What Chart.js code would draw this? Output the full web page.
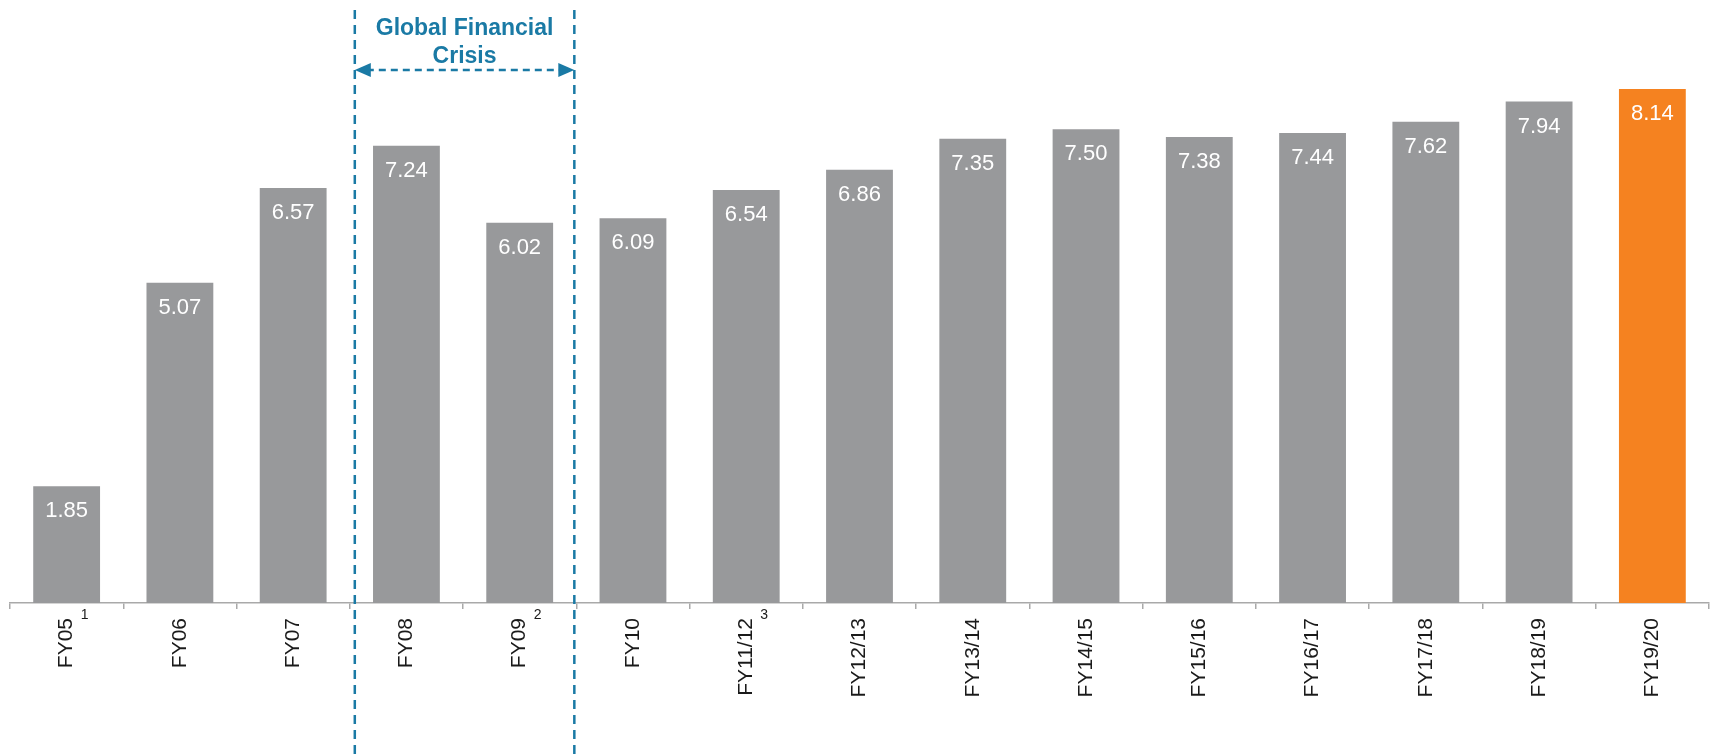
<!DOCTYPE html>
<html>
<head>
<meta charset="utf-8">
<script src="https://cdn.jsdelivr.net/npm/chart.js@4/dist/chart.umd.min.js"></script>
<style>
  html, body { margin: 0; padding: 0; background: #fff; }
  canvas { display: block; }
</style>
</head>
<body>
<canvas id="fy-chart" width="1712" height="755"></canvas>
<script>
var categories = ['FY05', 'FY06', 'FY07', 'FY08', 'FY09', 'FY10', 'FY11/12', 'FY12/13',
                  'FY13/14', 'FY14/15', 'FY15/16', 'FY16/17', 'FY17/18', 'FY18/19', 'FY19/20'];
var values = [1.85, 5.07, 6.57, 7.24, 6.02, 6.09, 6.54, 6.86, 7.35, 7.50, 7.38, 7.44, 7.62, 7.94, 8.14];
var footnotes = ['1', '', '', '', '2', '', '3', '', '', '', '', '', '', '', ''];
var crisisLabel = ['Global Financial', 'Crisis'];
var crisisFrom = 'FY08';
var crisisTo = 'FY09';

var GREY = '#98999b';
var ORANGE = '#f58220';
var BLUE = '#1a7aa5';
var FONT = '"Liberation Sans", Arial, sans-serif';

var barColors = values.map(function (v, i) {
    return i === values.length - 1 ? ORANGE : GREY;
});

// white value labels inside the top of each bar
var valueLabels = {
    id: 'valueLabels',
    afterDatasetsDraw: function (chart) {
        var ctx = chart.ctx;
        var meta = chart.getDatasetMeta(0);
        ctx.save();
        ctx.fillStyle = '#ffffff';
        ctx.font = '22px ' + FONT;
        ctx.textAlign = 'center';
        ctx.textBaseline = 'middle';
        meta.data.forEach(function (bar, i) {
            ctx.fillText(values[i].toFixed(2), bar.x, bar.y + 25);
        });
        ctx.restore();
    }
};

// small upright footnote marks next to the rotated tick labels
var footnoteMarks = {
    id: 'footnoteMarks',
    afterDraw: function (chart) {
        var ctx = chart.ctx;
        var xs = chart.scales.x;
        ctx.save();
        ctx.fillStyle = '#1a1a1a';
        ctx.font = '14px ' + FONT;
        ctx.textAlign = 'center';
        ctx.textBaseline = 'middle';
        footnotes.forEach(function (note, i) {
            if (!note) return;
            ctx.fillText(note, xs.getPixelForValue(i) + 18, xs.top + 12);
        });
        ctx.restore();
    }
};

// dashed band + arrow marking the global financial crisis
var crisisBand = {
    id: 'crisisBand',
    afterDraw: function (chart) {
        var ctx = chart.ctx;
        var xs = chart.scales.x;
        var a = categories.indexOf(crisisFrom);
        var b = categories.indexOf(crisisTo);
        var left = xs.getPixelForValue(a - 0.5) + 5;
        var right = xs.getPixelForValue(b + 0.5) - 2;
        var arrowY = 70;
        ctx.save();
        ctx.strokeStyle = BLUE;
        ctx.fillStyle = BLUE;
        ctx.lineWidth = 2.5;

        ctx.setLineDash([9, 6]);
        ctx.beginPath();
        ctx.moveTo(left, 10);
        ctx.lineTo(left, chart.height);
        ctx.moveTo(right, 10);
        ctx.lineTo(right, chart.height);
        ctx.stroke();

        ctx.setLineDash([7, 5]);
        ctx.beginPath();
        ctx.moveTo(left + 12, arrowY);
        ctx.lineTo(right - 12, arrowY);
        ctx.stroke();
        ctx.setLineDash([]);

        ctx.beginPath();
        ctx.moveTo(left, arrowY);
        ctx.lineTo(left + 16, arrowY - 7);
        ctx.lineTo(left + 16, arrowY + 7);
        ctx.closePath();
        ctx.fill();
        ctx.beginPath();
        ctx.moveTo(right, arrowY);
        ctx.lineTo(right - 16, arrowY - 7);
        ctx.lineTo(right - 16, arrowY + 7);
        ctx.closePath();
        ctx.fill();

        ctx.font = 'bold 23px ' + FONT;
        ctx.textAlign = 'center';
        ctx.textBaseline = 'alphabetic';
        var cx = (left + right) / 2;
        ctx.fillText(crisisLabel[0], cx, 35);
        ctx.fillText(crisisLabel[1], cx, 63);
        ctx.restore();
    }
};

var ctx = document.getElementById('fy-chart');
var chart = new Chart(ctx, {
    type: 'bar',
    data: {
        labels: categories,
        datasets: [{
            data: values,
            backgroundColor: barColors,
            borderWidth: 0,
            categoryPercentage: 1.0,
            barPercentage: 0.59
        }]
    },
    options: {
        responsive: false,
        animation: false,
        devicePixelRatio: 1,
        layout: { padding: { left: 10, right: 3, top: 3, bottom: 0 } },
        plugins: {
            legend: { display: false },
            tooltip: { enabled: false }
        },
        scales: {
            x: {
                offset: true,
                afterFit: function (scale) { scale.height = 152; },
                grid: {
                    display: true,
                    offset: true,
                    drawOnChartArea: false,
                    drawTicks: true,
                    tickLength: 6,
                    color: '#a9a9a9',
                    lineWidth: 1.5
                },
                border: { display: true, color: '#a9a9a9', width: 1.5 },
                ticks: {
                    minRotation: 90,
                    maxRotation: 90,
                    autoSkip: false,
                    padding: 9,
                    color: '#1a1a1a',
                    font: { family: FONT, size: 21 }
                }
            },
            y: {
                display: false,
                min: 0,
                max: 9.5
            }
        }
    },
    plugins: [valueLabels, footnoteMarks, crisisBand]
});
</script>
</body>
</html>
